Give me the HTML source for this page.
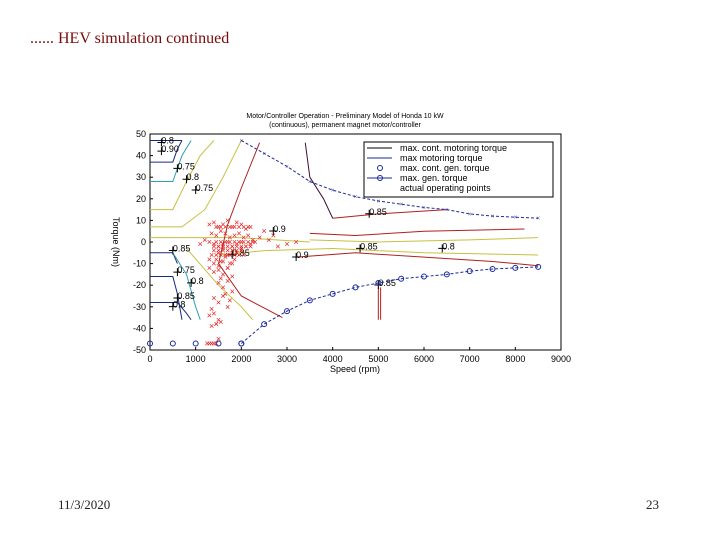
<!DOCTYPE html>
<html><head><meta charset="utf-8"><style>
body{margin:0;width:720px;height:540px;background:#fff;position:relative;overflow:hidden;font-family:"Liberation Serif",serif}
#title{position:absolute;left:30px;top:30px;font-size:16px;color:#7a0a0a}
.foot{position:absolute;top:497px;font-size:13px;color:#222}
svg{position:absolute;left:0;top:0}
</style></head><body>
<div id="title">...... HEV simulation continued</div>
<div class="foot" style="left:58px">11/3/2020</div>
<div class="foot" style="left:646px">23</div>
<svg id="chart" width="720" height="540"></svg>
<script>
const xTicks=[0,1000,2000,3000,4000,5000,6000,7000,8000,9000];
const yTicks=[50,40,30,20,10,0,-10,-20,-30,-40,-50];
const motSpeed=[2000,2500,3000,3500,4000,4500,5000,5500,6000,6500,7000,7500,8000,8500];
const motTorque=[47,41,35,28,24,21,19,17.5,16,15,13,12,11.5,11];
const genSpeed=[2000,2500,3000,3500,4000,4500,5000,5500,6000,6500,7000,7500,8000,8500];
const genTorque=[-47,-38,-32,-27,-24,-21,-19,-17,-16,-15,-13.5,-12.5,-12,-11.5];
const contSpeed=[0,500,1000,1500,2000];
const contTorque=[-47,-47,-47,-47,-47];
const opSpeed=[1300,1400,1500,1600,1700,1800,1900,2000,2100,2200,1350,1450,1550,1650,1750,1850,1950,2050,2150,2250,1300,1400,1500,1600,1700,1800,1900,2000,2100,2200,2300,1400,1500,1600,1700,1800,1900,2000,1450,1550,1650,1750,1850,1300,1400,1500,1600,1700,1800,1500,1600,1700,1800,1400,1500,1600,1700,1300,1400,1500,1350,1450,1550,1250,1350,1450,2400,2600,2800,3000,3200,1200,1100,
 1450,1550,1650,1750,1850,1950,2050,2150,1400,1500,1600,1700,1800,1900,2000,2100,2200,1450,1550,1650,1750,1850,1950,2050,2150,2250,1500,1600,1700,1800,1900,2000,1350,1450,1550,1650,1750,1850,1950,2050,1300,1400,1500,1600,1700,1800,1550,1650,1750,1350,1450,2500,2700,1300,1400,1500];
const opTorque=[8,9,7,8,10,7,9,8,6,7,4,3,5,4,2,3,4,2,3,1,0,-1,-2,-1,0,-2,-1,0,-2,-1,0,-4,-5,-3,-6,-4,-5,-3,-8,-9,-7,-10,-8,-12,-14,-13,-15,-12,-16,-19,-21,-18,-23,-26,-28,-25,-30,-34,-33,-36,-39,-38,-37,-47,-47,-47,2,1,-2,-1,0,1,-1,
 7,7,7,7,7,7,7,7,-2,-2,-2,-2,-2,-2,-2,-2,-2,0,0,0,0,0,0,0,0,0,-4,-4,-4,-4,-4,-4,-6,-6,-6,-6,-6,-6,-6,-6,-8,-10,-11,-9,-12,-10,-17,-24,-27,-31,-38,5,3,-47,-47,-45];
const contours=[
 {c:'#1a2a7a',p:[[0,47],[700,47]]},
 {c:'#1a2a7a',p:[[0,37],[500,37],[600,43],[700,47]]},
 {c:'#2aa0b0',p:[[0,28],[500,28],[700,40],[900,47]]},
 {c:'#c8c040',p:[[0,15],[500,15],[800,28],[1100,40],[1400,47]]},
 {c:'#c8c040',p:[[0,7],[700,7],[1200,15],[1600,30],[2000,47]]},
 {c:'#c8c040',p:[[0,2],[2000,2],[3500,0]]},
 {c:'#1a2a7a',p:[[0,-5],[500,-5],[600,-10]]},
 {c:'#1a2a7a',p:[[0,-16],[500,-16],[600,-24],[700,-36]]},
 {c:'#1a2a7a',p:[[0,-28],[600,-28],[800,-33],[900,-36]]},
 {c:'#2aa0b0',p:[[500,-5],[800,-15],[1000,-30],[1100,-36]]},
 {c:'#c8c040',p:[[800,-3],[1500,-20],[2000,-30],[2250,-36]]},
 {c:'#c8c040',p:[[1500,-6],[2500,-4],[4000,-3],[6000,-5],[8500,-6]]},
 {c:'#c8c040',p:[[3500,1],[5000,0],[7000,1],[8500,2]]},
 {c:'#b02020',p:[[2400,46],[2000,25],[1700,8],[1500,-10],[2000,-25],[2900,-35]]},
 {c:'#b02020',p:[[3500,4],[4500,3],[6000,5],[8200,6]]},
 {c:'#b02020',p:[[3200,-7],[4500,-5],[6000,-7],[7500,-9],[8500,-11]]},
 {c:'#b02020',p:[[4000,11],[5000,13],[6500,15]]},
 {c:'#401030',p:[[3400,46],[3500,30],[3800,20],[4000,11]]},
 {c:'#b02020',p:[[5000,-21],[5000,-36]]},{c:'#b02020',p:[[5050,-21],[5050,-36]]}
];
const labels=[[250,47,'0.8'],[250,43,'0.90'],[600,35,'0.75'],[800,30,'0.8'],[1000,25,'0.75'],[500,-3,'0.85'],[600,-13,'0.75'],[900,-18,'0.8'],[600,-25,'0.85'],[500,-29,'0.8'],[1800,-5,'0.85'],[2700,6,'0.9'],[3200,-6,'0.9'],[4600,-2,'0.85'],[6400,-2,'0.8'],[4800,14,'0.85'],[5000,-19,'0.85']];
const X=v=>150+v*411/9000, Y=t=>242-t*2.16;
const svg=document.getElementById('chart');const NS='http://www.w3.org/2000/svg';
function mk(tag,at,parent){const e=document.createElementNS(NS,tag);for(const k in at)e.setAttribute(k,at[k]);(parent||svg).appendChild(e);return e;}
let e=mk('rect',{x:X(0),y:Y(50),width:X(9000)-X(0),height:Y(-50)-Y(50),fill:'#fff',stroke:'#000','stroke-width':1});

e=mk('text',{x:345,y:118,'font-size':7,'text-anchor':'middle','font-family':'Liberation Sans,sans-serif'});e.textContent='Motor/Controller Operation - Preliminary Model of Honda 10 kW';

e=mk('text',{x:345,y:127,'font-size':7,'text-anchor':'middle','font-family':'Liberation Sans,sans-serif'});e.textContent='(continuous), permanent magnet motor/controller';

xTicks.forEach(v=>{const t=mk('text',{x:X(v),y:362,'font-size':9,'text-anchor':'middle','font-family':'Liberation Sans,sans-serif'});t.textContent=v;

mk('line',{x1:X(v),x2:X(v),y1:Y(-50),y2:Y(-50)-3,stroke:'#000'});});
yTicks.forEach(v=>{const t=mk('text',{x:146,y:Y(v)+3,'font-size':9,'text-anchor':'end','font-family':'Liberation Sans,sans-serif'});t.textContent=v;

mk('line',{x1:X(0),x2:X(0)+3,y1:Y(v),y2:Y(v),stroke:'#000'});});
e=mk('text',{x:355,y:372,'font-size':9,'text-anchor':'middle','font-family':'Liberation Sans,sans-serif'});e.textContent='Speed (rpm)';

e=mk('text',{x:0,y:0,'font-size':9,'text-anchor':'middle','font-family':'Liberation Sans,sans-serif',transform:'translate(113,242) rotate(90)'});e.textContent='Torque (Nm)';

contours.forEach(c=>{const l=mk('polyline',{points:c.p.map(q=>X(q[0])+','+Y(q[1])).join(' '),fill:'none',stroke:c.c,'stroke-width':1});
});
labels.forEach(a=>{const g=mk('text',{x:X(a[0]),y:Y(a[1])+3,'font-size':9,'font-family':'Liberation Sans,sans-serif'});g.textContent=a[2];

mk('path',{d:`M${X(a[0])-4} ${Y(a[1])+2}h8M${X(a[0])} ${Y(a[1])-2}v8`,stroke:'#000'});});
opSpeed.forEach((s,i)=>{const t=mk('text',{x:X(s),y:Y(opTorque[i])+3,'font-size':9,fill:'#e02020','text-anchor':'middle','font-family':'Liberation Sans,sans-serif'});t.textContent='×';
});
function series(sp,tq,name,marker){const l=mk('polyline',{points:sp.map((s,i)=>X(s)+','+Y(tq[i])).join(' '),fill:'none',stroke:'#1a2a9a','stroke-dasharray':'3,2'});

sp.forEach((s,i)=>{let m;if(marker==='o')m=mk('circle',{cx:X(s),cy:Y(tq[i]),r:2.5,fill:'none',stroke:'#1a2a9a'});else m=mk('text',{x:X(s),y:Y(tq[i])+2.5,'font-size':7,fill:'#1a2a9a','text-anchor':'middle'});if(m.tagName==='text')m.textContent='×';
});}
series(motSpeed,motTorque,'max-motoring-torque-line','x');
series(genSpeed,genTorque,'max-gen-torque-line','o');
contSpeed.forEach((s,i)=>{const c=mk('circle',{cx:X(s),cy:Y(contTorque[i]),r:2.5,fill:'none',stroke:'#1a2a9a'});
});
const lg=mk('g',{});
mk('rect',{x:364,y:142,width:189,height:55,fill:'#fff',stroke:'#000'},lg);
['max. cont. motoring torque','max motoring torque','max. cont. gen. torque','max. gen. torque','actual operating points'].forEach((t,i)=>{
const y=151+i*10;
if(i===0||i===1||i===3)mk('line',{x1:367,x2:392,y1:y-3,y2:y-3,stroke:i===0?'#000':'#1a2a9a'},lg);
if(i===2||i===3)mk('circle',{cx:380,cy:y-3,r:2.5,fill:'none',stroke:'#1a2a9a'},lg);
const tx=mk('text',{x:400,y:y,'font-size':9,'font-family':'Liberation Sans,sans-serif'},lg);tx.textContent=t;
});
</script>
</body></html>
